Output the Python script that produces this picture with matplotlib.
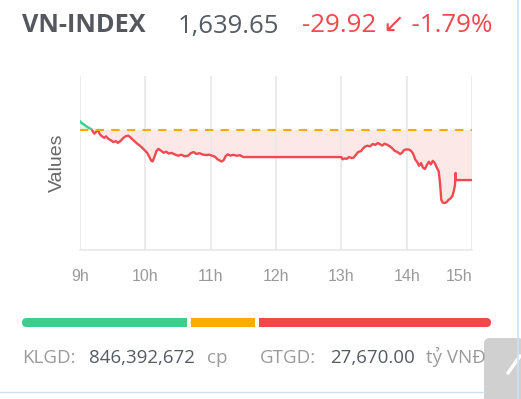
import numpy as np
import matplotlib.pyplot as plt
from matplotlib.patches import FancyBboxPatch, Rectangle

# intraday VN-INDEX (hours, index points)
hours = [9.00, 9.03, 9.06, 9.09, 9.12, 9.15, 9.18, 9.20, 9.22, 9.25, 9.28, 9.30,
         9.33, 9.37, 9.40, 9.43, 9.47, 9.51, 9.55, 9.58, 9.62, 9.66, 9.70, 9.74,
         9.78, 9.82, 9.87, 9.91, 9.95, 9.99, 10.03, 10.06, 10.09, 10.11, 10.14,
         10.17, 10.20, 10.24, 10.28, 10.32, 10.36, 10.40, 10.45, 10.50, 10.55,
         10.60, 10.65, 10.70, 10.74, 10.78, 10.83, 10.88, 10.93, 10.98, 11.03,
         11.07, 11.10, 11.14, 11.17, 11.20, 11.23, 11.26, 11.30, 11.35, 11.40,
         11.45, 11.50, 13.00, 13.02, 13.05, 13.08, 13.12, 13.16, 13.19, 13.22,
         13.26, 13.30, 13.33, 13.36, 13.40, 13.44, 13.48, 13.52, 13.56, 13.60,
         13.63, 13.66, 13.70, 13.74, 13.78, 13.82, 13.86, 13.90, 13.93, 13.96,
         14.00, 14.04, 14.07, 14.10, 14.13, 14.16, 14.19, 14.22, 14.25, 14.28,
         14.31, 14.34, 14.37, 14.40, 14.43, 14.46, 14.49, 14.51, 14.53, 14.55,
         14.58, 14.61, 14.64, 14.67, 14.70, 14.72, 14.74, 14.75, 14.751, 15.00]
index = [1674.8, 1673.6, 1672.9, 1672.0, 1671.2, 1670.6, 1669.9, 1668.5, 1667.4,
         1668.6, 1669.7, 1667.2, 1666.0, 1664.9, 1665.8, 1664.4, 1663.5, 1662.4,
         1662.9, 1661.9, 1663.0, 1664.7, 1665.9, 1666.2, 1664.9, 1663.4, 1661.6,
         1660.4, 1659.0, 1657.5, 1655.8, 1653.6, 1651.3, 1650.8, 1653.5, 1657.0,
         1658.3, 1657.2, 1656.0, 1656.6, 1655.5, 1655.9, 1655.0, 1654.2, 1654.8,
         1653.9, 1654.1, 1655.8, 1656.4, 1655.3, 1655.7, 1654.9, 1654.6, 1654.8,
         1654.1, 1653.5, 1652.2, 1651.3, 1650.8, 1651.6, 1654.0, 1655.0, 1654.3,
         1654.7, 1654.2, 1654.5, 1653.4, 1653.4, 1652.0, 1652.6, 1652.3, 1653.4,
         1652.8, 1653.1, 1654.6, 1656.5, 1656.9, 1658.4, 1659.6, 1660.2, 1659.8,
         1661.2, 1660.7, 1661.8, 1660.9, 1660.3, 1661.4, 1660.8, 1659.9, 1658.6,
         1657.0, 1656.4, 1655.2, 1656.0, 1657.6, 1658.0, 1657.8, 1657.0, 1655.3,
         1652.0, 1650.5, 1648.2, 1649.8, 1647.0, 1646.3, 1648.7, 1650.6, 1649.0,
         1651.1, 1649.9, 1647.2, 1644.9, 1638.0, 1627.8, 1626.2, 1625.9, 1626.4,
         1627.8, 1628.6, 1630.1, 1632.8, 1636.8, 1643.9, 1639.65, 1639.65]
ref_price = 1669.57
tick_hours = [9, 10, 11, 12, 13, 14, 15]
tick_labels = ['9h', '10h', '11h', '12h', '13h', '14h', '15h']

# market breadth bar: advancers / unchanged / decliners
breadth = [110, 43, 155]
breadth_colors = ['#3ecd8c', '#ffab00', '#f0494c']

W, H = 521, 399
fig = plt.figure(figsize=(W / 100, H / 100), dpi=100)
fig.patch.set_facecolor('white')

red = '#ef4a4f'
green = '#3ecd8c'

def fx(x):
    return x / W

def fy(y):
    return 1 - y / H

# chart
ax = fig.add_axes([fx(80), fy(250), fx(472) - fx(80), fy(76) - fy(250)])
t = np.array(hours)
v = np.array(index)
ax.set_xlim(9, 15)
ax.set_ylim(1597.8, 1701.9)
ax.fill_between(t, v, ref_price, where=v < ref_price, interpolate=True,
                color='#fde8e8', lw=0)
ax.fill_between(t, v, ref_price, where=v > ref_price, interpolate=True,
                color='#e2f7ee', lw=0)
l1, = ax.plot(t, v, color=red, lw=1.7, zorder=3)
l2, = ax.plot(t, v, color=green, lw=1.7, zorder=3)
l1.set_clip_path(Rectangle((9, 1500), 6, ref_price - 1500, transform=ax.transData))
l2.set_clip_path(Rectangle((9, ref_price), 6, 200, transform=ax.transData))
ax.axhline(ref_price, color='#ffa800', lw=1.5, ls=(0, (4, 3.5)), zorder=4)

ax.set_xticks(tick_hours)
ax.set_xticklabels(tick_labels)
for lab in ax.get_xticklabels():
    lab.set_fontfamily('Liberation Sans')
ax.get_xticklabels()[-1].set_horizontalalignment('right')
ax.tick_params(axis='x', length=0, pad=14, labelsize=11.5, labelcolor='#9a9a9a')
ax.set_yticks([])
ax.grid(axis='x', color='#e8e8e8', lw=1.2)
for s in ['top', 'right', 'left']:
    ax.spines[s].set_visible(False)
ax.spines['bottom'].set_color('#e8e8e8')
ax.spines['bottom'].set_linewidth(1.2)
ax.set_ylabel('Values', fontsize=14, color='#666666', family='Liberation Sans',
              labelpad=10)

# header
fig.text(fx(22), fy(26), 'VN-INDEX', fontsize=18.2, weight='bold', color='#54575e',
         family='Open Sans', va='center')
fig.text(fx(178), fy(26), '1,639.65', fontsize=18.5, color='#555b63',
         family='Open Sans', va='center')
fig.text(fx(302), fy(26), '-29.92 \u2199 -1.79%', fontsize=18.7, color=red,
         family=['Open Sans', 'DejaVu Sans'], va='center')

# overlay in pixel coords
ov = fig.add_axes([0, 0, 1, 1], zorder=-1)
ov.set_xlim(0, W)
ov.set_ylim(H, 0)
ov.axis('off')

total = sum(breadth)
x0, x1, gap = 22, 491, 4
span = x1 - x0 - gap * (len(breadth) - 1)
xs = x0
for i, (n, c) in enumerate(zip(breadth, breadth_colors)):
    w = span * n / total
    ov.add_patch(FancyBboxPatch((xs, 318), w, 9, boxstyle='round,pad=0,rounding_size=4.5',
                                color=c, lw=0))
    if i > 0:
        ov.add_patch(Rectangle((xs, 318), min(6, w), 9, color=c, lw=0))
    if i < len(breadth) - 1:
        ov.add_patch(Rectangle((xs + w - min(6, w), 318), min(6, w), 9, color=c, lw=0))
    xs += w + gap

ft = dict(fontsize=13.5, family=['Open Sans', 'DejaVu Sans'], va='baseline')
ov.text(22, 363, 'KLGD:', color='#9b9b9b', **ft)
ov.text(89, 363, '846,392,672', color='#555b63', **ft)
ov.text(207, 363, 'cp', color='#9b9b9b', **ft)
ov.text(260, 363, 'GTGD:', color='#9b9b9b', **ft)
ov.text(330, 363, '27,670.00', color='#555b63', **ft)
ov.text(426, 363, 'tỷ VNĐ', color='#9b9b9b', **ft)

ov.plot([0, 484], [392, 392], color='#cfe0f2', lw=1)
ov.add_patch(FancyBboxPatch((484, 338), 40, 70, boxstyle='round,pad=0,rounding_size=6',
                            color='#d0d0d0', lw=0))
ov.plot([508, 520], [373, 356], color='white', lw=2.5, solid_capstyle='round')
ov.plot([518, 518], [0, H], color='#cfe0f2', lw=1.2)

fig.savefig('out.png', dpi=100)
